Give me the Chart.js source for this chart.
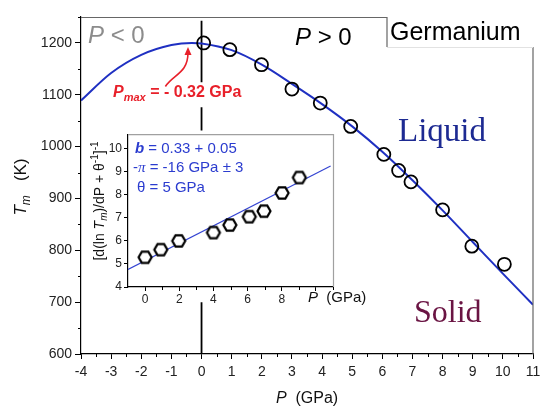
<!DOCTYPE html>
<html>
<head>
<meta charset="utf-8">
<script src="https://cdn.jsdelivr.net/npm/chart.js@4.4.0/dist/chart.umd.min.js"></script>
<style>
  html, body { margin: 0; padding: 0; background: #fff; }
  #wrap { position: relative; width: 550px; height: 417px; overflow: hidden; }
  #main { position: absolute; left: 0; top: 0; }
  #inset { position: absolute; left: 80px; top: 125px; }
</style>
</head>
<body>
<div id="wrap">
  <canvas id="main" width="550" height="417"></canvas>
  <canvas id="inset" width="300" height="185"></canvas>
</div>
<script>
// main panel: melting temperature of Ge vs pressure
const measuredP = [0.07, 0.94, 1.99, 3.0, 3.94, 4.95, 6.05, 6.54, 6.95, 8.0, 8.97, 10.05];
const measuredT = [1200, 1187, 1158, 1111, 1084, 1039, 985, 954, 932, 878, 808, 773];

// fitted melting curve
const fitP = [-4, -3, -2, -1, -0.32, 0, 1, 2, 3, 4, 5, 6, 7, 8, 9, 10, 11];
const fitT = [1089, 1142, 1177, 1196, 1200, 1199, 1186, 1158, 1121, 1082, 1039, 990, 935, 877, 816, 755, 695];

// broken marker line at P = 0 (null = gap)
const zeroLineP = [0, 0, 0, 0, 0, 0, 0, 0];
const zeroLineT = [1243, 1124, null, 1076, 1031, null, 700, 600];

const mainXTicks = [-4, -3, -2, -1, 0, 1, 2, 3, 4, 5, 6, 7, 8, 9, 10, 11];
const mainYTicks = [600, 700, 800, 900, 1000, 1100, 1200];

// inset: [d(ln Tm)/dP + 1/theta]^-1 vs P
const insetP = [0.0, 0.92, 1.97, 4.0, 4.96, 6.1, 6.96, 8.02, 9.03];
const insetY = [5.29, 5.62, 6.00, 6.36, 6.69, 7.05, 7.29, 8.08, 8.75];
const insetFitP = [-1, 10.86];
const insetFitY = [4.76, 9.25];
const insetXTicks = [0, 2, 4, 6, 8, 10];
const insetYTicks = [4, 5, 6, 7, 8, 9, 10];

const SANS = '"Liberation Sans", Arial, sans-serif';
const SERIF = '"Liberation Serif", "Times New Roman", serif';
Chart.defaults.font.family = SANS;
Chart.defaults.animation = false;

const pts = (xs, ys) => xs.map((x, i) => ({ x: x, y: ys[i] }));

// draw a run of mixed-style text, optionally rotated and centred
function drawRuns(ctx, x, y, runs, color, opts = {}) {
  ctx.save();
  ctx.translate(x, y);
  if (opts.rotate) ctx.rotate(-Math.PI / 2);
  ctx.fillStyle = color;
  ctx.textBaseline = 'alphabetic';
  ctx.textAlign = 'left';
  let total = 0;
  runs.forEach(r => { ctx.font = r.font; total += ctx.measureText(r.t).width; });
  let cx = opts.center ? -total / 2 : 0;
  runs.forEach(r => {
    ctx.font = r.font;
    ctx.fillText(r.t, cx, r.dy || 0);
    cx += ctx.measureText(r.t).width;
  });
  ctx.restore();
}

function hexagon(size, lw) {
  const s = Math.ceil(size + lw * 2);
  const c = document.createElement('canvas');
  c.width = s; c.height = s;
  const g = c.getContext('2d');
  g.beginPath();
  for (let i = 0; i < 6; i++) {
    const a = Math.PI / 3 * i;
    const px = s / 2 + size / 2 * Math.cos(a);
    const py = s / 2 + size / 2 * Math.sin(a);
    if (i === 0) g.moveTo(px, py); else g.lineTo(px, py);
  }
  g.closePath();
  g.fillStyle = '#fff';
  g.fill();
  g.lineWidth = lw;
  g.strokeStyle = '#000';
  g.stroke();
  return c;
}

// short unlabelled ticks between the major ones
const minorTicks = {
  id: 'minorTicks',
  afterDraw(chart, args, o) {
    const { ctx, chartArea: a, scales: { x, y } } = chart;
    ctx.save();
    ctx.strokeStyle = '#000';
    ctx.lineWidth = 1;
    ctx.beginPath();
    if (o.xStep) {
      for (let v = o.xFrom; v <= x.max; v += o.xStep) {
        const px = Math.round(x.getPixelForValue(v)) + 0.5;
        ctx.moveTo(px, a.bottom); ctx.lineTo(px, a.bottom + 3);
      }
    }
    if (o.yStep) {
      for (let v = o.yFrom; v <= y.max; v += o.yStep) {
        const py = Math.round(y.getPixelForValue(v)) + 0.5;
        ctx.moveTo(a.left - 3, py); ctx.lineTo(a.left, py);
      }
    }
    ctx.stroke();
    ctx.restore();
  }
};

const mainDecor = {
  id: 'mainDecor',
  afterDraw(chart) {
    const { ctx, chartArea: a, scales: { x, y } } = chart;
    const boxX = 387, boxY = 47;
    ctx.save();
    // frame with the label notch at top right
    ctx.strokeStyle = '#666';
    ctx.lineWidth = 1.2;
    ctx.beginPath();
    ctx.moveTo(a.left, a.top + 0.5); ctx.lineTo(boxX, a.top + 0.5);
    ctx.lineTo(boxX, boxY);
    ctx.moveTo(a.right, boxY); ctx.lineTo(a.right, a.bottom);
    ctx.stroke();
    ctx.strokeStyle = '#e2e2e2';
    ctx.lineWidth = 1;
    ctx.beginPath();
    ctx.moveTo(boxX, boxY + 0.5); ctx.lineTo(a.right, boxY + 0.5);
    ctx.stroke();

    drawRuns(ctx, 88, 43, [
      { t: 'P', font: 'italic 24px ' + SANS },
      { t: ' < 0', font: '24px ' + SANS }
    ], '#8c8c8c');
    drawRuns(ctx, 295, 45, [
      { t: 'P', font: 'italic 24px ' + SANS },
      { t: ' > 0', font: '24px ' + SANS }
    ], '#000');
    drawRuns(ctx, 390, 40, [{ t: 'Germanium', font: '25px ' + SANS }], '#000');

    drawRuns(ctx, 113, 97, [
      { t: 'P', font: 'italic bold 16px ' + SANS },
      { t: 'max', font: 'italic bold 11px ' + SANS, dy: 4 },
      { t: ' = - 0.32 GPa', font: 'bold 16px ' + SANS }
    ], '#e8202a');

    // curved arrow pointing at the maximum
    const tx = x.getPixelForValue(-1.2), ty = y.getPixelForValue(1116);
    const hx = x.getPixelForValue(-0.45), hy = y.getPixelForValue(1192);
    ctx.strokeStyle = '#e8202a';
    ctx.fillStyle = '#e8202a';
    ctx.lineWidth = 1.6;
    ctx.beginPath();
    ctx.moveTo(tx, ty);
    ctx.bezierCurveTo(tx + 8, ty - 12, hx, hy + 26, hx, hy + 6);
    ctx.stroke();
    ctx.beginPath();
    ctx.moveTo(hx, hy);
    ctx.lineTo(hx - 3.5, hy + 8);
    ctx.lineTo(hx + 3.5, hy + 8);
    ctx.closePath();
    ctx.fill();

    drawRuns(ctx, 398, 141, [{ t: 'Liquid', font: '33px ' + SERIF }], '#1d2a92');
    drawRuns(ctx, 414, 322, [{ t: 'Solid', font: '32px ' + SERIF }], '#6a1443');

    drawRuns(ctx, 307, 403, [
      { t: 'P', font: 'italic 16px ' + SANS },
      { t: '  (GPa)', font: '16px ' + SANS }
    ], '#111', { center: true });
    drawRuns(ctx, 26, 187, [
      { t: 'T', font: 'italic 17px ' + SANS },
      { t: 'm', font: 'italic 12px ' + SANS, dy: 4 },
      { t: '   (K)', font: '17px ' + SANS }
    ], '#111', { center: true, rotate: true });
    ctx.restore();
  }
};

new Chart(document.getElementById('main'), {
  type: 'scatter',
  data: {
    datasets: [
      {
        data: pts(measuredP, measuredT),
        pointStyle: 'circle',
        pointRadius: 6.5,
        pointBorderWidth: 1.8,
        pointBorderColor: '#000',
        pointBackgroundColor: 'rgba(0,0,0,0)',
        showLine: false
      },
      {
        data: pts(fitP, fitT),
        showLine: true,
        cubicInterpolationMode: 'monotone',
        borderColor: '#1f30c2',
        borderWidth: 2,
        pointRadius: 0
      },
      {
        data: pts(zeroLineP, zeroLineT),
        showLine: true,
        spanGaps: false,
        borderColor: '#000',
        borderWidth: 1.8,
        pointRadius: 0
      }
    ]
  },
  options: {
    responsive: false,
    layout: { padding: { top: 17, right: 17, left: 0, bottom: 0 } },
    plugins: {
      legend: { display: false },
      tooltip: { enabled: false },
      minorTicks: { xFrom: -3.5, xStep: 1, yFrom: 650, yStep: 100 }
    },
    scales: {
      x: {
        type: 'linear', min: -4, max: 11,
        afterBuildTicks(s) { s.ticks = mainXTicks.map(v => ({ value: v })); },
        afterFit(s) { s.height = 63; },
        ticks: { color: '#222', font: { size: 14 }, padding: 5, callback: v => String(v) },
        grid: { drawOnChartArea: false, tickLength: 5, tickColor: '#000' },
        border: { color: '#000', width: 1.2 }
      },
      y: {
        type: 'linear', min: 600, max: 1250,
        afterBuildTicks(s) { s.ticks = mainYTicks.map(v => ({ value: v })); },
        afterFit(s) { s.width = 81; },
        ticks: { color: '#222', font: { size: 14 }, padding: 3, callback: v => String(v) },
        grid: { drawOnChartArea: false, tickLength: 6, tickColor: '#000' },
        border: { color: '#000', width: 1.2 }
      }
    }
  },
  plugins: [minorTicks, mainDecor]
});

const insetDecor = {
  id: 'insetDecor',
  beforeDraw(chart) {
    const { ctx, chartArea: a } = chart;
    ctx.save();
    ctx.fillStyle = '#fff';
    ctx.fillRect(a.left, a.top, a.right - a.left, a.bottom - a.top);
    ctx.restore();
  },
  afterDraw(chart) {
    const { ctx, chartArea: a } = chart;
    ctx.save();
    ctx.strokeStyle = '#a0a0a0';
    ctx.lineWidth = 1.2;
    ctx.beginPath();
    ctx.moveTo(a.left, a.top + 0.5); ctx.lineTo(a.right + 0.5, a.top + 0.5);
    ctx.lineTo(a.right + 0.5, a.bottom);
    ctx.stroke();

    const blue = '#2b3ccf';
    const f = '15px ' + SANS;
    drawRuns(ctx, 55, 28, [
      { t: 'b', font: 'italic bold 15px ' + SANS },
      { t: ' = 0.33 + 0.05', font: f }
    ], blue);
    drawRuns(ctx, 53, 47, [
      { t: '-', font: f },
      { t: 'π', font: 'italic 15px ' + SERIF },
      { t: ' = -16 GPa ± 3', font: f }
    ], blue);
    drawRuns(ctx, 57, 67, [{ t: 'θ = 5 GPa', font: f }], blue);

    drawRuns(ctx, 228, 177, [
      { t: 'P', font: 'italic 15px ' + SANS },
      { t: '  (GPa)', font: '15px ' + SANS }
    ], '#111');

    drawRuns(ctx, 24, 76, [
      { t: '[d(ln ', font: '14px ' + SANS },
      { t: 'T', font: 'italic 14px ' + SANS },
      { t: 'm', font: 'italic 10px ' + SANS, dy: 3 },
      { t: ')/dP + θ', font: '14px ' + SANS },
      { t: '-1', font: '10px ' + SANS, dy: -6 },
      { t: ']', font: '14px ' + SANS },
      { t: '-1', font: '10px ' + SANS, dy: -6 }
    ], '#111', { center: true, rotate: true });
    ctx.restore();
  }
};

new Chart(document.getElementById('inset'), {
  type: 'scatter',
  data: {
    datasets: [
      {
        data: pts(insetP, insetY),
        pointStyle: hexagon(13, 2.2),
        pointRadius: 7,
        showLine: false
      },
      {
        data: pts(insetFitP, insetFitY),
        showLine: true,
        borderColor: '#3444d2',
        borderWidth: 1.2,
        pointRadius: 0
      }
    ]
  },
  options: {
    responsive: false,
    layout: { padding: { top: 7, right: 47, left: 0, bottom: 0 } },
    plugins: {
      legend: { display: false },
      tooltip: { enabled: false },
      minorTicks: { xFrom: 1, xStep: 2, yStep: 0 }
    },
    scales: {
      x: {
        type: 'linear', min: -1, max: 11,
        afterBuildTicks(s) { s.ticks = insetXTicks.map(v => ({ value: v })); },
        afterFit(s) { s.height = 23; },
        ticks: {
          color: '#222', font: { size: 12 }, padding: 1,
          callback: v => (v < 10 ? String(v) : '')
        },
        grid: { drawOnChartArea: false, tickLength: 4, tickColor: '#000' },
        border: { color: '#000', width: 1.2 }
      },
      y: {
        type: 'linear', min: 4, max: 10.63,
        afterBuildTicks(s) { s.ticks = insetYTicks.map(v => ({ value: v })); },
        afterFit(s) { s.width = 48; },
        ticks: { color: '#222', font: { size: 12 }, padding: 2, callback: v => String(v) },
        grid: { drawOnChartArea: false, tickLength: 4, tickColor: '#000' },
        border: { color: '#000', width: 1.2 }
      }
    }
  },
  plugins: [minorTicks, insetDecor]
});
</script>
</body>
</html>
